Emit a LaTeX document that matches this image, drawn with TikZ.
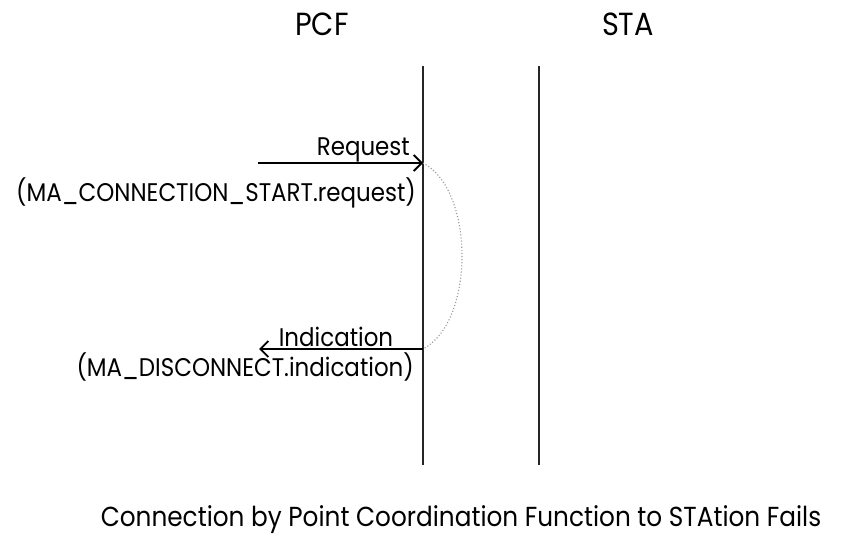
\documentclass[tikz,border=0pt]{standalone}
\usepackage{fontspec}
\setmainfont{Poppins}[FakeStretch=0.9]
\usetikzlibrary{arrows.meta, positioning, calc}

\begin{document}
\begin{tikzpicture}[x=1pt, y=-1pt,
  lifeline/.style={draw=black!85, line width=1.3pt},
  msg/.style={draw=black, line width=1.8pt, -{Straight Barb[length=8pt, width=16pt, line width=1.8pt]}},
  lbl/.style={inner sep=0pt, font=\fontsize{25.5}{28}\selectfont},
  entity/.style={inner sep=0pt, font=\fontsize{32}{34}\selectfont},
  loopback/.style={draw=black!40, dotted, line width=1.1pt}]
  \useasboundingbox (0,0) rectangle (854,537);

  % entities
  \node[entity] (pcf) at (322,24) {PCF};
  \node[entity] (sta) at (628,24) {STA};

  % lifelines
  \coordinate (pcftop) at (423,66);
  \coordinate (pcfbot) at (423,465);
  \coordinate (statop) at (539,66);
  \coordinate (stabot) at (539,465);
  \draw[lifeline] (pcftop) -- (pcfbot);
  \draw[lifeline] (statop) -- (stabot);

  % request primitive
  \coordinate (reqfrom) at (258,163);
  \coordinate (reqto) at (pcftop |- reqfrom);
  \draw[msg] (reqfrom) -- (reqto);
  \node[lbl, anchor=base east] (reqname) at (410,156) {Request};
  \node[lbl, anchor=north east] (reqprim) at (416,177) {(MA\_CONNECTION\_START.request)};

  % indication primitive
  \coordinate (indfrom) at (pcftop |- 0,349);
  \coordinate (indto) at (259,349);
  \draw[msg] (indfrom) -- (indto);
  \node[lbl, anchor=base] (indname) at (336,346) {Indication};
  \node[lbl, anchor=north east] (indprim) at (414,352) {(MA\_DISCONNECT.indication)};

  % failure loop
  \draw[loopback] (reqto) .. controls (475,190) and (475,322) .. (indfrom);

  % caption
  \node[inner sep=0pt, font=\fontsize{27.5}{30}\selectfont, anchor=base] (caption) at (461,526)
    {Connection by Point Coordination Function to STAtion Fails};
\end{tikzpicture}
\end{document}
